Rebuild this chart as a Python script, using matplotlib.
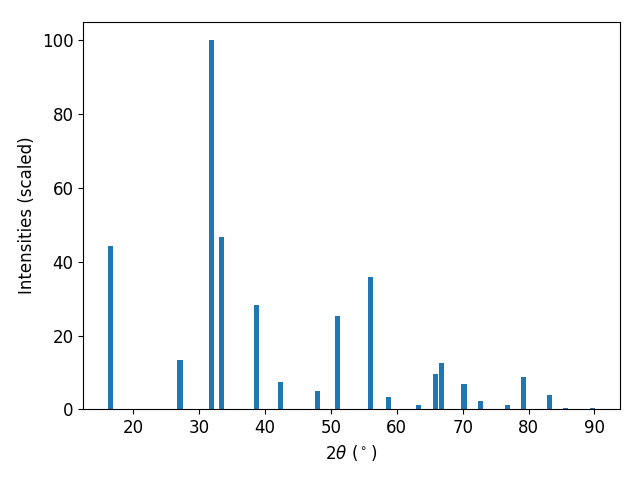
import numpy as np
import matplotlib
matplotlib.use("Agg")
import matplotlib.pyplot as plt

plt.rcParams['font.size'] = 12

two_theta = [16.5, 27.1, 31.9, 33.4, 38.7, 42.35, 47.97, 51.0,
             56.0, 58.73, 63.28, 65.86, 66.77, 70.18, 72.68, 76.78,
             79.21, 83.15, 85.57, 89.7]
intensity = [44.2, 13.5, 100.0, 46.6, 28.4, 7.3, 4.9, 25.2,
             35.8, 3.25, 1.1, 9.5, 12.5, 7.0, 2.2, 1.1,
             8.7, 3.8, 0.5, 0.5]

fig, ax = plt.subplots(figsize=(6.4, 4.8), dpi=100)
ax.bar(two_theta, intensity, width=0.8)
ax.set_xlabel(r'2$\theta$ ($^\circ$)')
ax.set_ylabel('Intensities (scaled)')

plt.subplots_adjust(left=0.130, right=0.968, top=0.955, bottom=0.147)
plt.savefig('out.png')
